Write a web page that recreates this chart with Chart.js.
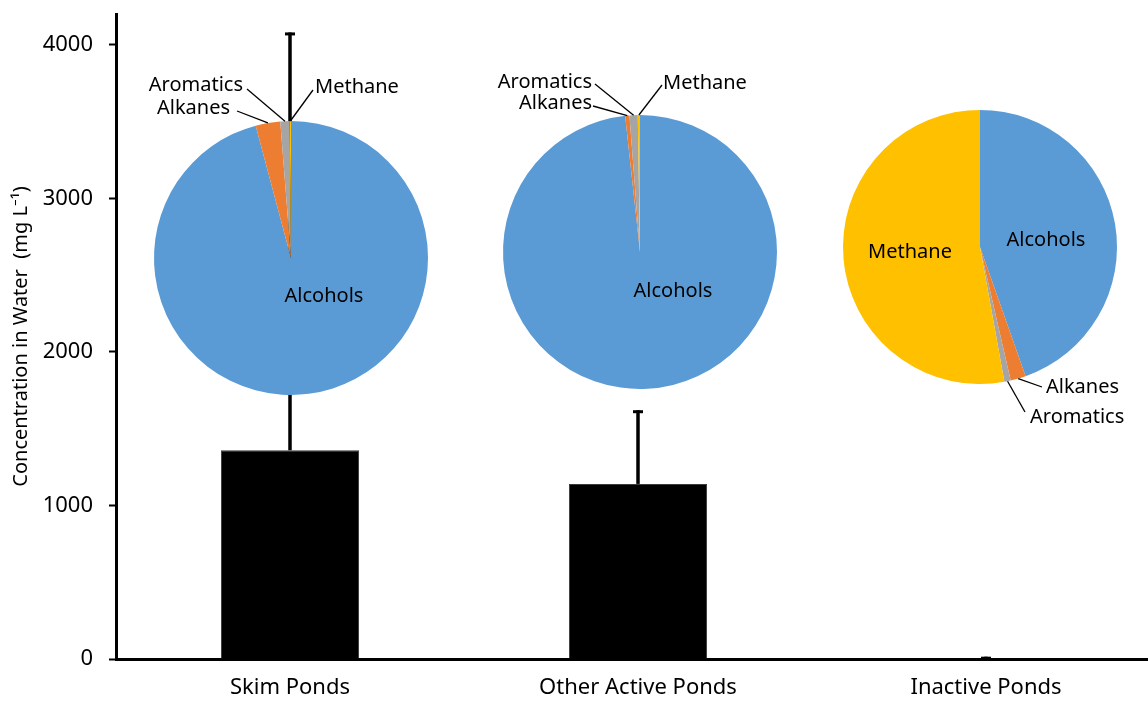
<!DOCTYPE html>
<html>
<head>
<meta charset="utf-8">
<title>Concentration in Water by Pond Type</title>
<script src="https://cdn.jsdelivr.net/npm/chart.js@4.4.1/dist/chart.umd.min.js"></script>
<style>
  html, body { margin: 0; padding: 0; background: #ffffff; }
  body { width: 1148px; height: 701px; overflow: hidden; position: relative; }
  #barCanvas { position: absolute; left: 0; top: 0; }
  .pie { position: absolute; width: 400px; height: 400px; }
  #pieSkim { left: 91px; top: 58px; }
  #pieOther { left: 440px; top: 52px; }
  #pieInactive { left: 780px; top: 47px; }
</style>
</head>
<body>
<canvas id="barCanvas" width="1162" height="701"></canvas>
<canvas id="pieSkim" class="pie" width="400" height="400"></canvas>
<canvas id="pieOther" class="pie" width="400" height="400"></canvas>
<canvas id="pieInactive" class="pie" width="400" height="400"></canvas>
<script>
// ---- data ----
const categories = ['Skim Ponds', 'Other Active Ponds', 'Inactive Ponds'];
const meanConc = [1360, 1140, 5];          // mg L-1
const errConc = [2720, 480, 10];           // upper error, mg L-1
const yTicks = [0, 1000, 2000, 3000, 4000];

const compounds = ['Alcohols', 'Alkanes', 'Aromatics', 'Methane'];
const skimShares = [95.85, 2.9, 1.1, 0.15];      // % of total
const otherShares = [98.27, 0.5, 0.97, 0.26];
const inactiveShares = [44.6, 1.8, 0.75, 52.85];

// ---- styling ----
const FONT = '"Noto Sans", "Open Sans", sans-serif';
const compoundColors = ['#5B9BD5', '#ED7D31', '#A5A5A5', '#FFC000'];

// label placement per pie, offsets from the pie centre (px)
const skimLabelLayout = [
  { inside: true, dx: 33, dy: 38 },
  { dx: -61, dy: -150, align: 'right', lx: -54, ly: -147 },
  { dx: -48, dy: -173, align: 'right', lx: -44, ly: -169 },
  { dx: 24, dy: -171, align: 'left', lx: 22, ly: -168 }
];
const otherLabelLayout = [
  { inside: true, dx: 33, dy: 39 },
  { dx: -48, dy: -149, align: 'right', lx: -47, ly: -146 },
  { dx: -48, dy: -170, align: 'right', lx: -45, ly: -168 },
  { dx: 23, dy: -169, align: 'left', lx: 22, ly: -167 }
];
const inactiveLabelLayout = [
  { inside: true, dx: 66, dy: -7 },
  { dx: 66, dy: 140, align: 'left', lx: 62, ly: 140 },
  { dx: 50, dy: 170, align: 'left', lx: 45, ly: 165 },
  { inside: true, dx: -70, dy: 5 }
];

// error bars drawn above each bar
const errorBarPlugin = {
  id: 'errorBars',
  afterDatasetsDraw(chart) {
    const meta = chart.getDatasetMeta(0);
    const y = chart.scales.y;
    const ctx = chart.ctx;
    ctx.save();
    ctx.strokeStyle = '#000';
    meta.data.forEach((bar, i) => {
      const top = y.getPixelForValue(meanConc[i] + errConc[i]);
      ctx.lineWidth = 3.5;
      ctx.beginPath();
      ctx.moveTo(bar.x, bar.y);
      ctx.lineTo(bar.x, top);
      ctx.stroke();
      ctx.lineWidth = 3;
      ctx.beginPath();
      ctx.moveTo(bar.x - 5, top + 1.5);
      ctx.lineTo(bar.x + 5, top + 1.5);
      ctx.stroke();
    });
    ctx.restore();
  }
};

new Chart(document.getElementById('barCanvas'), {
  type: 'bar',
  data: {
    labels: categories,
    datasets: [{
      data: meanConc,
      backgroundColor: '#000000',
      borderColor: '#3a3a3a',
      borderWidth: 1,
      barPercentage: 0.397,
      categoryPercentage: 1.0
    }]
  },
  options: {
    responsive: false,
    animation: false,
    layout: { padding: { top: 14, right: 2, left: 0, bottom: 0 } },
    plugins: { legend: { display: false }, tooltip: { enabled: false } },
    scales: {
      x: {
        grid: { drawOnChartArea: false, drawTicks: false },
        border: { display: true, color: '#000', width: 3 },
        ticks: { color: '#000', font: { family: FONT, size: 22 }, padding: 16 },
        afterFit(scale) { scale.height = 42; }
      },
      y: {
        min: 0,
        max: 4200,
        afterBuildTicks(scale) { scale.ticks = yTicks.map(v => ({ value: v })); },
        grid: { drawOnChartArea: false, drawTicks: true, tickLength: 7, tickWidth: 2, tickColor: '#000' },
        border: { display: true, color: '#000', width: 3 },
        ticks: {
          color: '#000',
          font: { family: FONT, size: 22 },
          padding: 16,
          callback: (v) => String(v)
        },
        title: {
          display: true,
          text: 'Concentration in Water  (mg L\u207B\u00B9)',
          color: '#000',
          font: { family: FONT, size: 20 },
          padding: { top: 9, bottom: 0 }
        },
        afterFit(scale) {
          scale.width = 116;
          scale.paddingTop = 0;
          scale.paddingBottom = 0;
        }
      }
    }
  },
  plugins: [errorBarPlugin]
});

// slice labels, either inside the pie or outside with a leader line
const pieLabelPlugin = {
  id: 'pieLabels',
  afterDatasetsDraw(chart, args, opts) {
    const ctx = chart.ctx;
    const arcs = chart.getDatasetMeta(0).data;
    ctx.save();
    ctx.font = '20px ' + FONT;
    ctx.fillStyle = '#000';
    ctx.strokeStyle = '#000';
    ctx.lineWidth = 1.3;
    ctx.textBaseline = 'middle';
    opts.layout.forEach((lab, i) => {
      const arc = arcs[i];
      const cx = arc.x, cy = arc.y;
      const name = chart.data.labels[i];
      if (lab.inside) {
        ctx.textAlign = 'center';
        ctx.fillText(name, cx + lab.dx, cy + lab.dy);
        return;
      }
      const mid = (arc.startAngle + arc.endAngle) / 2;
      const ex = cx + Math.cos(mid) * arc.outerRadius;
      const ey = cy + Math.sin(mid) * arc.outerRadius;
      ctx.beginPath();
      ctx.moveTo(cx + lab.lx, cy + lab.ly);
      ctx.lineTo(ex, ey);
      ctx.stroke();
      ctx.textAlign = lab.align;
      ctx.fillText(name, cx + lab.dx, cy + lab.dy);
    });
    ctx.restore();
  }
};

function makePie(id, shares, layout) {
  new Chart(document.getElementById(id), {
    type: 'pie',
    data: {
      labels: compounds,
      datasets: [{ data: shares, backgroundColor: compoundColors, borderWidth: 0 }]
    },
    options: {
      responsive: false,
      animation: false,
      layout: { padding: 63 },
      plugins: {
        legend: { display: false },
        tooltip: { enabled: false },
        pieLabels: { layout: layout }
      }
    },
    plugins: [pieLabelPlugin]
  });
}

makePie('pieSkim', skimShares, skimLabelLayout);
makePie('pieOther', otherShares, otherLabelLayout);
makePie('pieInactive', inactiveShares, inactiveLabelLayout);
</script>
</body>
</html>
